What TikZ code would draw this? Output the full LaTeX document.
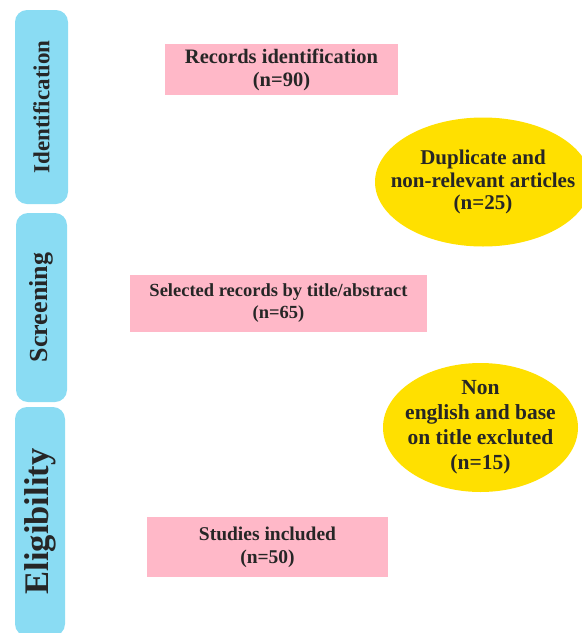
\documentclass[tikz,border=0pt]{standalone}
\usepackage{fontspec}
\setmainfont{Liberation Serif}
\usepackage{tikz}
\usetikzlibrary{positioning}
\usetikzlibrary{shapes.geometric}
\definecolor{phaseblue}{HTML}{8ADCF3}
\definecolor{recpink}{HTML}{FFB8C8}
\definecolor{exclyellow}{HTML}{FFE000}
\definecolor{inkgray}{HTML}{262626}
\tikzstyle{phase}=[rectangle,rounded corners=12pt,fill=phaseblue,rotate=90,inner sep=0pt,text=inkgray,font=\bfseries]
\tikzstyle{rec}=[rectangle,fill=recpink,inner sep=0pt,align=center,text=inkgray]
\tikzstyle{excl}=[ellipse,fill=exclyellow,inner sep=0pt]
\tikzstyle{excltxt}=[align=center,text=inkgray,inner sep=0pt]

\begin{document}
\begin{tikzpicture}[x=1pt,y=-1pt]
      % \draw[help lines] (0,0) grid (582,633);
      \useasboundingbox (0,0) rectangle (582,633);
      \node [phase, minimum width=194pt, minimum height=53pt, font=\fontsize{23}{26}\bfseries] (I) at (41.5, 107) {Identification};
      \node [phase, minimum width=189pt, minimum height=51pt, font=\fontsize{26}{29}\bfseries] (S) at (41.5, 307.5) {Screening};
      \node [phase, minimum width=229pt, minimum height=50pt, font=\fontsize{34.5}{37}\bfseries] (E) at (40, 521.5) {Eligibility};

      \node [rec, minimum width=233pt, minimum height=51pt, font=\fontsize{20.5}{23}\bfseries] (R) at (281.5, 69.5) {Records identification\\(n=90)};
      \node [rec, minimum width=297pt, minimum height=57pt, font=\fontsize{18.5}{22}\bfseries] (T) at (278.5, 303.5) {Selected records by title/abstract\\(n=65)};
      \node [rec, minimum width=241pt, minimum height=60pt, font=\fontsize{19.5}{23}\bfseries] (U) at (267.5, 547) {Studies included\\(n=50)};

      \node [excl, minimum width=216pt, minimum height=129pt] (D) at (483, 182) {};
      \node [excltxt, font=\fontsize{21}{22.5}\bfseries] at (D) {Duplicate and\\non-relevant articles\\(n=25)};
      \node [excl, minimum width=195pt, minimum height=129pt] (N) at (480.5, 427.5) {};
      \node [excltxt, font=\fontsize{21.5}{25}\bfseries] at (N) {Non\\english and base\\on title excluted\\(n=15)};
\end{tikzpicture}
\end{document}
